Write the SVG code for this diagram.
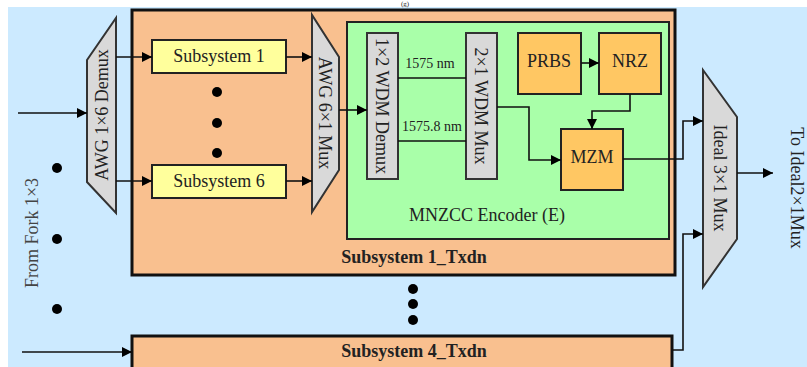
<svg xmlns="http://www.w3.org/2000/svg" width="807" height="367" viewBox="0 0 807 367">
<defs>
<marker id="ah" viewBox="0 0 10 10" refX="10" refY="5" markerWidth="10" markerHeight="10" markerUnits="userSpaceOnUse" orient="auto">
<path d="M0,0 L10,5 L0,10 z" fill="#000"/>
</marker>
<style>
.t{font-family:"Liberation Serif","Times New Roman",serif;fill:#222;}
.lbl{font-family:"Liberation Serif","Times New Roman",serif;font-size:18px;text-anchor:middle;fill:#222;}
.sm{font-family:"Liberation Serif","Times New Roman",serif;font-size:14px;text-anchor:middle;fill:#222;}
.bold{font-family:"Liberation Serif","Times New Roman",serif;font-size:18px;font-weight:bold;text-anchor:middle;fill:#222;}
.gray{fill:#d9d9d9;stroke:#333;stroke-width:2;}
.yel{fill:#ffff9c;stroke:#222;stroke-width:2;}
.org{fill:#ffc763;stroke:#222;stroke-width:2;}
.wire{fill:none;stroke:#111;stroke-width:1.6;}
.arr{fill:none;stroke:#111;stroke-width:1.6;marker-end:url(#ah);}
.dot{fill:#000;}
</style>
</defs>
<rect x="0" y="0" width="807" height="367" fill="#fff"/>
<rect x="8" y="7" width="799" height="360" fill="#cceaff"/>
<text x="405" y="6" class="sm" font-family="Liberation Serif, serif" style="font-size:7px">(g)</text>

<g id="subsystem1-txdn" font-family="Liberation Serif, serif">
<rect x="132" y="10" width="543" height="265" fill="#f9c08f" stroke="#111" stroke-width="3"/>
<text x="414" y="263" class="bold" font-family="Liberation Serif, serif">Subsystem 1_Txdn</text>
</g>
<g id="subsystem4-txdn">
<rect x="132" y="336" width="540" height="40" fill="#f9c08f" stroke="#111" stroke-width="3"/>
<text x="414" y="357" class="bold" font-family="Liberation Serif, serif">Subsystem 4_Txdn</text>
</g>
<g id="encoder">
<rect x="347" y="22" width="322" height="217" fill="#a9ffa9" stroke="#222" stroke-width="2"/>
<text x="487" y="221" class="lbl" font-family="Liberation Serif, serif">MNZCC Encoder (E)</text>
</g>

<g id="awg-demux">
<polygon points="116,18 116,213 87,182 87,60" class="gray"/>
<text class="lbl" font-family="Liberation Serif, serif" transform="translate(108,115) rotate(-90)">AWG 1×6 Demux</text>
</g>
<g id="subsys1">
<rect x="152" y="40" width="134" height="33" class="yel"/>
<text x="219" y="62" class="lbl" font-family="Liberation Serif, serif">Subsystem 1</text>
</g>
<g id="subsys6">
<rect x="152" y="165" width="134" height="33" class="yel"/>
<text x="219" y="187" class="lbl" font-family="Liberation Serif, serif">Subsystem 6</text>
</g>
<g id="awg-mux">
<polygon points="312,15 312,212 339,170 339,57" class="gray"/>
<text class="lbl" font-family="Liberation Serif, serif" transform="translate(319,113) rotate(90)">AWG 6×1 Mux</text>
</g>
<g id="wdm-demux">
<rect x="367" y="33" width="31" height="146" class="gray"/>
<text class="lbl" font-family="Liberation Serif, serif" transform="translate(376,106) rotate(90)">1×2 WDM Demux</text>
</g>
<g id="wdm-mux">
<rect x="466" y="33" width="31" height="146" class="gray"/>
<text class="lbl" font-family="Liberation Serif, serif" transform="translate(475,106) rotate(90)">2×1 WDM Mux</text>
</g>
<g id="prbs">
<rect x="518" y="33" width="63" height="61" class="org"/>
<text x="549" y="67" class="lbl" font-family="Liberation Serif, serif">PRBS</text>
</g>
<g id="nrz">
<rect x="599" y="33" width="62" height="61" class="org"/>
<text x="630" y="67" class="lbl" font-family="Liberation Serif, serif">NRZ</text>
</g>
<g id="mzm">
<rect x="561" y="129" width="62" height="61" class="org"/>
<text x="592" y="163" class="lbl" font-family="Liberation Serif, serif">MZM</text>
</g>
<g id="ideal-mux">
<polygon points="703,70 703,287 737,239 737,117" class="gray"/>
<text class="lbl" font-family="Liberation Serif, serif" transform="translate(714,178) rotate(90)">Ideal 3×1 Mux</text>
</g>
<g id="labels">
<text class="lbl" font-family="Liberation Serif, serif" transform="translate(791,188) rotate(90)">To Ideal2×1Mux</text>
<text class="lbl" font-family="Liberation Serif, serif" style="fill:#444" transform="translate(38,233) rotate(-90)">From Fork 1×3</text>
<text x="430" y="68" class="sm" font-family="Liberation Serif, serif">1575 nm</text>
<text x="432" y="131" class="sm" font-family="Liberation Serif, serif">1575.8 nm</text>
</g>
<g id="dots">
<circle cx="57" cy="168" r="5" class="dot"/>
<circle cx="57" cy="239" r="5" class="dot"/>
<circle cx="57" cy="309" r="5" class="dot"/>
<circle cx="217" cy="92" r="5" class="dot"/>
<circle cx="217" cy="123" r="5" class="dot"/>
<circle cx="217" cy="153" r="5" class="dot"/>
<circle cx="413" cy="289" r="5" class="dot"/>
<circle cx="413" cy="304" r="5" class="dot"/>
<circle cx="413" cy="320" r="5" class="dot"/>
</g>

<g id="connectors">
<line x1="18" y1="113" x2="87" y2="113" class="arr"/>
<line x1="22" y1="352" x2="132" y2="352" class="arr"/>
<line x1="116" y1="57" x2="152" y2="57" class="arr"/>
<line x1="116" y1="181" x2="152" y2="181" class="arr"/>
<line x1="286" y1="57" x2="312" y2="57" class="arr"/>
<line x1="286" y1="181" x2="312" y2="181" class="arr"/>
<line x1="339" y1="110" x2="367" y2="110" class="arr"/>
<line x1="398" y1="78" x2="466" y2="78" class="wire"/>
<line x1="398" y1="141" x2="466" y2="141" class="wire"/>
<polyline points="497,107 529,107 529,160 561,160" class="arr"/>
<line x1="581" y1="63" x2="599" y2="63" class="arr"/>
<polyline points="630,94 630,111 592,111 592,129" class="arr"/>
<polyline points="623,159 683,159 683,121 703,121" class="arr"/>
<polyline points="672,350 683,350 683,234 703,234" class="arr"/>
<line x1="737" y1="173" x2="773" y2="173" class="arr"/>
</g>
</svg>
